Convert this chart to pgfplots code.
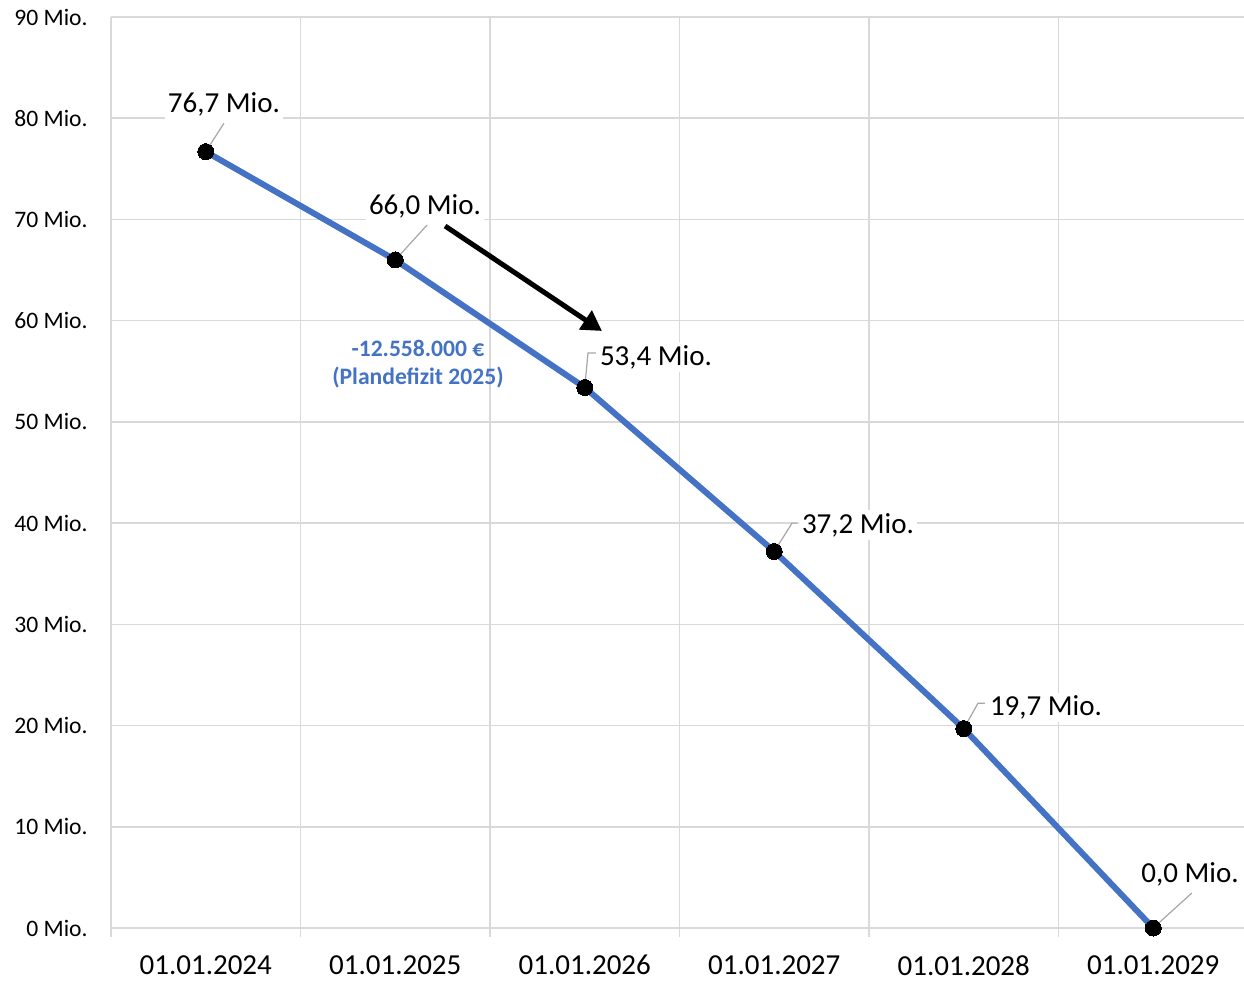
\documentclass[border=0pt]{standalone}
\usepackage{fontspec}
\setmainfont{Carlito}
\usepackage{pgfplots}
\pgfplotsset{compat=1.18}
\usetikzlibrary{arrows.meta}
\definecolor{lineblue}{HTML}{4472C4}
\definecolor{gridgray}{HTML}{D9D9D9}
\definecolor{leadgray}{HTML}{A6A6A6}

\begin{document}
\begin{tikzpicture}
\begin{axis}[
    name=main,
    scale only axis,
    width=568.5pt, height=455.5pt,
    xmin=-0.5, xmax=5.5, ymin=0, ymax=90,
    clip=false,
    axis line style={draw=none},
    xtick={0,1,2,3,4,5},
    xticklabels={01.01.2024,01.01.2025,01.01.2026,01.01.2027,01.01.2028,01.01.2029},
    minor xtick={-0.5,0.5,1.5,2.5,3.5,4.5,5.5},
    ytick={0,10,...,90},
    yticklabels={0 Mio.,10 Mio.,20 Mio.,30 Mio.,40 Mio.,50 Mio.,60 Mio.,70 Mio.,80 Mio.,90 Mio.},
    xtick pos=bottom, ytick pos=left,
    tick align=outside,
    major tick length=0pt,
    minor tick length=4.5pt,
    minor tick style={gridgray, line width=0.75pt},
    ymajorgrids, xminorgrids,
    major grid style={gridgray, line width=0.75pt},
    minor grid style={gridgray, line width=0.75pt},
    yticklabel style={font=\fontsize{11.8}{14}\selectfont, anchor=east, inner sep=0pt, xshift=-11.5pt},
    xticklabel style={font=\fontsize{14.5}{17}\selectfont, anchor=north, inner sep=0pt, yshift=-13.5pt},
]
\addplot[lineblue, line width=3pt, mark=*, mark size=4pt,
    mark options={black, fill=black, line width=0pt}]
    coordinates {(0,76.7) (1,66.0) (2,53.4) (3,37.2) (4,19.7) (5,0.0)};

% leader lines
\draw[leadgray, line width=0.6pt] (axis cs:0,76.7) -- (axis cs:0.096,79.5);
\draw[leadgray, line width=0.6pt] (axis cs:1,66.0) -- (axis cs:1.168,69.45);
\draw[leadgray, line width=0.6pt] (axis cs:2,53.4) -- (axis cs:2.017,56.8) -- (axis cs:2.059,56.8);
\draw[leadgray, line width=0.6pt] (axis cs:3,37.2) -- (axis cs:3.094,40.0) -- (axis cs:3.120,40.0);
\draw[leadgray, line width=0.6pt] (axis cs:4,19.7) -- (axis cs:4.075,22.2) -- (axis cs:4.112,22.2);
\draw[leadgray, line width=0.6pt] (axis cs:5,0.0) -- (axis cs:5.204,3.46);

% data labels
\begin{scope}[every node/.style={fill=white, inner sep=1.5pt, font=\fontsize{14.5}{17}\selectfont}]
\node at (axis cs:0.096,81.4) {76,7 Mio.};
\node at (axis cs:1.157,71.3) {66,0 Mio.};
\node at (axis cs:2.376,56.4) {53,4 Mio.};
\node at (axis cs:3.442,39.8) {37,2 Mio.};
\node at (axis cs:4.434,21.8) {19,7 Mio.};
\node at (axis cs:5.194,5.3) {0,0 Mio.};
\end{scope}

% arrow and deficit note
\draw[-{Triangle[length=10pt,width=11pt]}, line width=2.5pt, black]
    (axis cs:1.263,69.35) -- (axis cs:2.091,58.98);
\node[text=lineblue, font=\bfseries\fontsize{11.8}{14}\selectfont, align=center]
    at (axis cs:1.120,55.7) {-12.558.000 €\\(Plandefizit 2025)};
\end{axis}
\pgfresetboundingbox
\path[use as bounding box] (main.south west) ++(-55.5pt,-26.5pt) rectangle ++(622pt,490.5pt);
\end{tikzpicture}
\end{document}
